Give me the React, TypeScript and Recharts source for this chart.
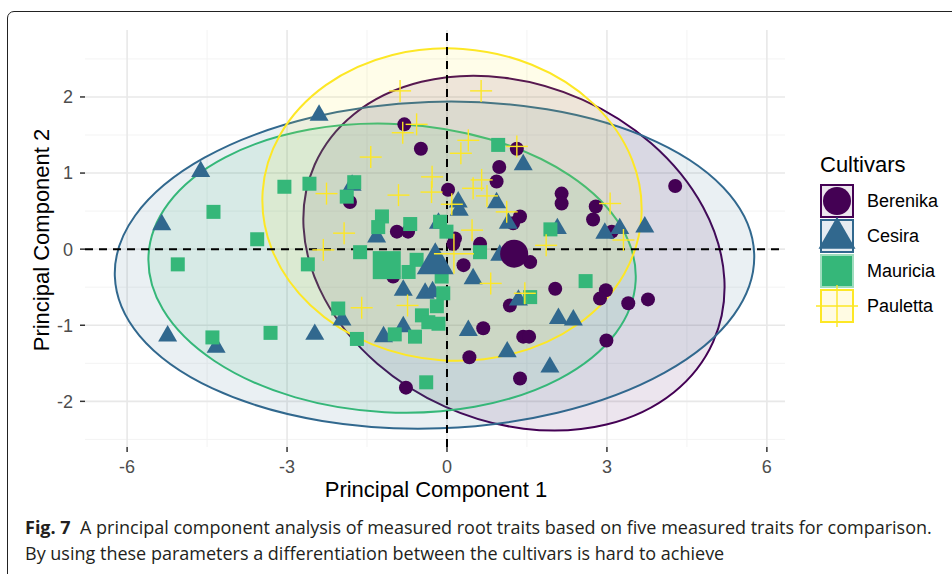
import React from 'react';
import {
  ScatterChart,
  Scatter,
  XAxis,
  YAxis,
  CartesianGrid,
  ReferenceLine,
  ReferenceArea,
} from 'recharts';

// axis ticks and grid
const xTicks = [-6, -3, 0, 3, 6];
const yTicks = [-2, -1, 0, 1, 2];
const xMinor = [-4.5, -1.5, 1.5, 4.5];
const yMinor = [-2.5, -1.5, -0.5, 0.5, 1.5, 2.5];

const cultivars = ['Berenika', 'Cesira', 'Mauricia', 'Pauletta'];

// PC1 / PC2 scores
const berenika: [number, number][] = [
  [-0.8, 1.64], [-0.49, 1.32], [1.31, 1.32], [0.98, 1.08], [0.93, 0.89],
  [0.02, 0.78], [-1.82, 0.62], [1.37, 0.43], [1.24, 0.34], [-0.94, 0.23],
  [-0.73, 0.23], [0.15, 0.14], [0.12, 0.07], [0.62, 0.07], [0.31, -0.21],
  [-1.01, -0.36], [2.15, 0.73], [2.15, 0.6], [2.79, 0.56], [2.74, 0.39],
  [3.09, 0.23], [4.28, 0.83], [1.56, -0.17], [2.03, -0.52], [2.98, -0.54],
  [2.87, -0.65], [3.4, -0.71], [3.77, -0.66], [2.99, -1.2], [1.43, -1.15],
  [1.54, -1.15], [1.18, -0.74], [0.68, -1.04], [0.42, -1.42], [1.37, -1.7],
  [-0.77, -1.82],
];

const cesira: [number, number][] = [
  [-2.4, 1.76], [-4.62, 1.02], [-5.35, 0.32], [-5.24, -1.14], [-4.33, -1.29],
  [-2.48, -1.12], [-1.78, 0.84], [0.21, 0.62], [0.23, 0.51], [0.93, 0.61],
  [1.15, 0.34], [-1.32, 0.16], [-0.16, 0.34], [1.43, 1.11], [2.07, 0.27],
  [2.96, 0.21], [3.24, 0.27], [3.71, 0.29], [0.99, -0.08], [0.49, -0.39],
  [-0.82, -0.54], [-0.41, -0.58], [-0.27, -0.56], [-1.97, -0.93], [-0.82, -1.02],
  [-1.19, -1.15], [0.4, -1.07], [1.13, -1.35], [1.93, -1.55], [1.34, -0.67],
  [2.09, -0.91], [2.37, -0.93],
];

const mauricia: [number, number][] = [
  [-4.38, 0.49], [-3.05, 0.82], [-2.58, 0.86], [-3.56, 0.13], [-5.05, -0.2],
  [-4.4, -1.16], [-3.31, -1.1], [-2.61, -0.2], [-1.74, 0.88], [-1.88, 0.69],
  [-1.22, 0.43], [-1.29, 0.29], [-0.69, 0.33], [-0.13, 0.36], [-0.01, 0.23],
  [0.96, 1.37], [1.94, 0.26], [-1.63, -0.04], [-0.57, -0.14], [-0.72, -0.3],
  [0.62, -0.04], [-0.1, -0.36], [-0.07, -0.58], [-0.19, -0.75], [-0.47, -0.87],
  [-0.16, -0.98], [-0.35, -0.96], [-2.04, -0.78], [-0.98, -1.12], [-0.6, -1.15],
  [-1.69, -1.18], [2.6, -0.42], [1.56, -0.63], [-0.39, -1.75],
];

const pauletta: [number, number][] = [
  [-0.88, 2.08], [0.64, 2.08], [-0.57, 1.64], [-0.83, 1.53], [-1.43, 1.21],
  [0.4, 1.43], [0.26, 1.26], [1.31, 1.35], [-0.28, 0.95], [-0.29, 0.75],
  [0.65, 0.91], [0.49, 0.8], [0.75, 0.7], [0.09, 0.59], [-0.91, 0.71],
  [-2.26, 0.73], [-1.93, 0.21], [1.12, 0.49], [0.47, 0.25], [3.06, 0.6],
  [3.31, 0.12], [1.86, 0.05], [-2.32, -0.01], [0.82, -0.45], [1.46, -0.58],
  [-0.74, -0.74], [-1.6, -0.77],
];

// group means (drawn large)
const centroidX = [1.26, -0.22, -1.13, 0.13];
const centroidY = [-0.06, -0.19, -0.21, -0.06];

// confidence ellipses: centre, semi-axes (axis units), tilt in degrees
const ellipseCx = [1.256, -0.234, -1.03, 0.094];
const ellipseCy = [-0.053, -0.21, -0.25, 0.586];
const ellipseRx = [4.09, 6.0, 4.575, 3.56];
const ellipseRy = [2.21, 2.145, 1.895, 2.05];
const ellipseTilt = [24, -2, 3, 4];

const colors = ['#440154', '#31688E', '#35B779', '#FDE725'];
const kinds = ['circle', 'triangle', 'square', 'plus'];
const smallSize = [14, 19, 14, 22];
const bigSize = [28, 37, 28, 40];

const series = [berenika, cesira, mauricia, pauletta];

const FONT = '"Liberation Sans", Arial, Helvetica, sans-serif';

function marker(kind: string, cx: number, cy: number, size: number, color: string) {
  if (kind === 'circle') {
    return <circle cx={cx} cy={cy} r={size / 2} fill={color} />;
  }
  if (kind === 'triangle') {
    const h = size * 0.866;
    return (
      <polygon
        points={`${cx},${cy - (h * 2) / 3} ${cx - size / 2},${cy + h / 3} ${cx + size / 2},${cy + h / 3}`}
        fill={color}
      />
    );
  }
  if (kind === 'square') {
    return <rect x={cx - size / 2} y={cy - size / 2} width={size} height={size} fill={color} />;
  }
  return (
    <g stroke={color} strokeWidth={1.4}>
      <line x1={cx - size / 2} y1={cy} x2={cx + size / 2} y2={cy} />
      <line x1={cx} y1={cy - size / 2} x2={cx} y2={cy + size / 2} />
    </g>
  );
}

const makeShape = (i: number, big: boolean) => (props: any) => {
  const { cx, cy } = props;
  if (cx == null || cy == null) return <g />;
  return marker(kinds[i], cx, cy, big ? bigSize[i] : smallSize[i], colors[i]);
};

const makeEllipse = (i: number) => (props: any) => {
  const { x, y, width, height } = props;
  const cx = x + width / 2;
  const cy = y + height / 2;
  return (
    <ellipse
      cx={cx}
      cy={cy}
      rx={Math.abs(width) / 2}
      ry={Math.abs(height) / 2}
      transform={`rotate(${ellipseTilt[i]} ${cx} ${cy})`}
      fill={colors[i]}
      fillOpacity={0.1}
      stroke={colors[i]}
      strokeWidth={2}
    />
  );
};

const legendFill = ['#ECE6EE', '#E6ECF2', '#35B779', '#FFFBE3'];
const legendStroke = ['#440154', '#31688E', '#9FDDBE', '#FDE725'];

function LegendKey({ i }: { i: number }) {
  return (
    <svg width={46} height={35} style={{ display: 'block', overflow: 'visible' }}>
      <rect x={7} y={1} width={32} height={32} fill={legendFill[i]} stroke={legendStroke[i]} strokeWidth={2} />
      {i === 2 ? null : marker(kinds[i], 23, i === 1 ? 19 : 17, i === 3 ? 42 : bigSize[i], colors[i])}
    </svg>
  );
}

export default function App() {
  return (
    <div
      style={{
        position: 'absolute',
        left: 0,
        top: 0,
        width: 952,
        height: 574,
        background: '#fff',
        overflow: 'hidden',
        fontFamily: FONT,
      }}
    >
      <div
        style={{
          position: 'absolute',
          left: 7,
          top: 11,
          width: 990,
          height: 640,
          border: '1.5px solid #222',
          borderRadius: 7,
        }}
      />
      <div style={{ position: 'absolute', left: 0, top: 0 }}>
        <ScatterChart width={952} height={500} margin={{ top: 30, right: 167, bottom: 13, left: 10 }}>
          <CartesianGrid verticalValues={xMinor} horizontalValues={yMinor} stroke="#F3F3F3" strokeWidth={1} />
          <CartesianGrid verticalValues={xTicks} horizontalValues={yTicks} stroke="#E8E8E8" strokeWidth={1.6} />
          <XAxis
            type="number"
            dataKey="x"
            domain={[-6.79, 6.34]}
            ticks={xTicks}
            allowDataOverflow
            height={40}
            axisLine={false}
            tickSize={5}
            tickMargin={8}
            tickLine={{ stroke: '#333', strokeWidth: 1.5 }}
            tick={{ fill: '#4D4D4D', fontSize: 18, fontFamily: FONT }}
          />
          <YAxis
            type="number"
            dataKey="y"
            domain={[-2.6, 2.88]}
            ticks={yTicks}
            allowDataOverflow
            width={75}
            axisLine={false}
            tickSize={5}
            tickMargin={7}
            tickLine={{ stroke: '#333', strokeWidth: 1.5 }}
            tick={{ fill: '#4D4D4D', fontSize: 18, fontFamily: FONT }}
          />
          {cultivars.map((c, i) => (
            <Scatter
              key={`p-${c}`}
              name={c}
              data={series[i].map(([x, y]) => ({ x, y }))}
              shape={makeShape(i, false)}
              isAnimationActive={false}
            />
          ))}
          {cultivars.map((c, i) => (
            <Scatter
              key={`m-${c}`}
              name={`${c} mean`}
              data={[{ x: centroidX[i], y: centroidY[i] }]}
              shape={makeShape(i, true)}
              isAnimationActive={false}
            />
          ))}
          {cultivars.map((c, i) => (
            <ReferenceArea
              key={`e-${c}`}
              x1={ellipseCx[i] - ellipseRx[i]}
              x2={ellipseCx[i] + ellipseRx[i]}
              y1={ellipseCy[i] - ellipseRy[i]}
              y2={ellipseCy[i] + ellipseRy[i]}
              ifOverflow="visible"
              shape={makeEllipse(i)}
            />
          ))}
          <ReferenceLine x={0} stroke="#000" strokeWidth={2} strokeDasharray="8 6" />
          <ReferenceLine y={0} stroke="#000" strokeWidth={2} strokeDasharray="8 6" />
        </ScatterChart>
      </div>

      <svg width={952} height={574} style={{ position: 'absolute', left: 0, top: 0, pointerEvents: 'none' }}>
        <text x={436} y={497} textAnchor="middle" fontSize={22} fill="#000" fontFamily={FONT}>
          Principal Component 1
        </text>
        <text
          x={49}
          y={240}
          textAnchor="middle"
          fontSize={22}
          fill="#000"
          fontFamily={FONT}
          transform="rotate(-90 49 240)"
        >
          Principal Component 2
        </text>
        <text x={820} y={172} fontSize={22} fill="#000" fontFamily={FONT}>
          Cultivars
        </text>
      </svg>

      <div style={{ position: 'absolute', left: 814, top: 184 }}>
        {cultivars.map((c, i) => (
          <div key={c} style={{ display: 'flex', alignItems: 'center', height: 35 }}>
            <LegendKey i={i} />
            <span style={{ fontSize: 18, marginLeft: 7, color: '#000', fontFamily: FONT }}>{c}</span>
          </div>
        ))}
      </div>

      <div
        style={{
          position: 'absolute',
          left: 25,
          top: 514,
          fontFamily: '"Open Sans", "Noto Sans", sans-serif',
          fontSize: 18,
          lineHeight: '26px',
          color: '#231F20',
          whiteSpace: 'nowrap',
        }}
      >
        <div>
          <b>Fig. 7</b>&nbsp; A principal component analysis of measured root traits based on five measured traits for comparison.
        </div>
        <div>By using these parameters a differentiation between the cultivars is hard to achieve</div>
      </div>
    </div>
  );
}
